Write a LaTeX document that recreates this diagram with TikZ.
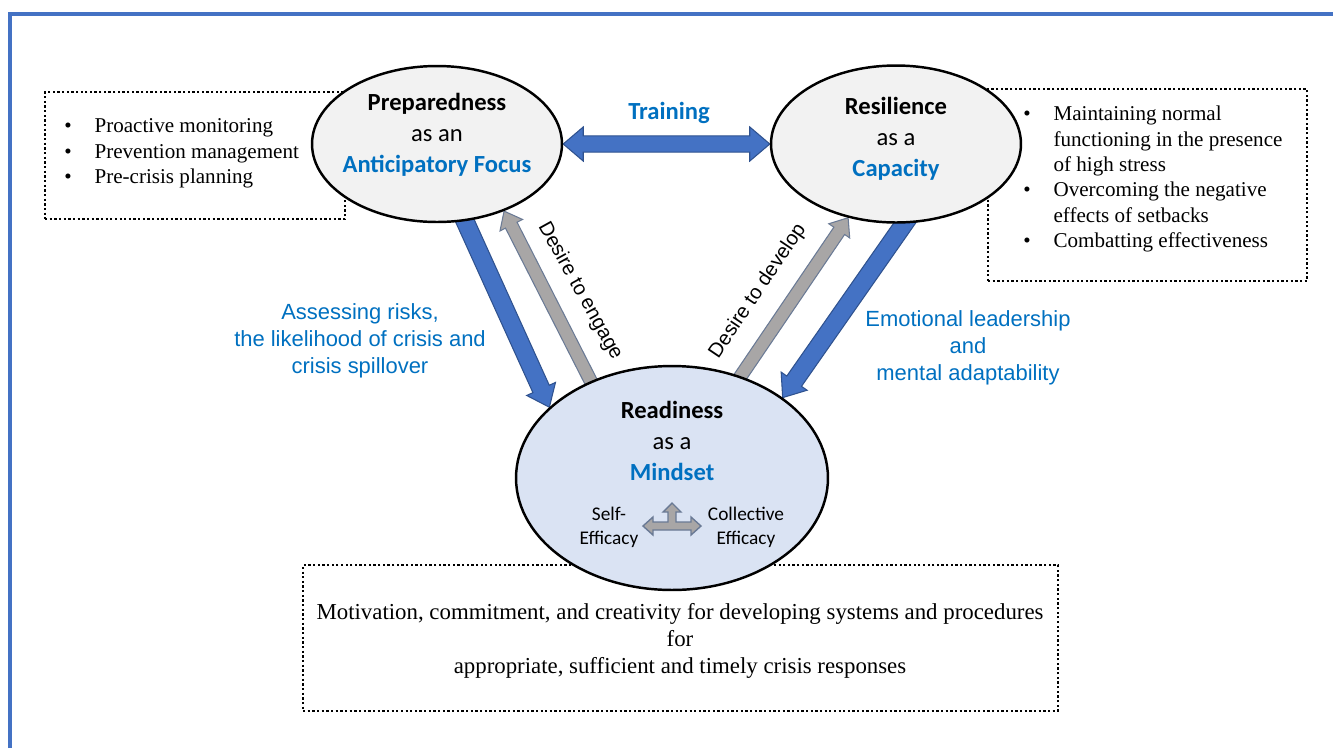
\documentclass[tikz,border=0pt]{standalone}
\usepackage{fontspec}
\setmainfont{Liberation Serif}
\setsansfont{Carlito}
\newfontfamily\arialfont{Liberation Sans}
\usetikzlibrary{shapes.geometric,positioning,backgrounds,calc}
\definecolor{frameblue}{HTML}{4472C4}
\definecolor{txtblue}{HTML}{0070C0}
\definecolor{arrblue}{HTML}{4472C4}
\definecolor{arredge}{HTML}{2F528F}
\definecolor{arrgray}{HTML}{A8A6A6}
\definecolor{grayedge}{HTML}{6A7A95}
\definecolor{ovalgray}{HTML}{F2F2F2}
\definecolor{ovalblue}{HTML}{DAE3F3}
% block arrow: style, from, to, shaft half width, head half width, head length
\newcommand{\onearrow}[6]{%
 \coordinate (hb) at ($(#3)!#6!(#2)$);
 \draw[#1] ($(#2)!#4!90:(#3)$) -- ($(hb)!#4!-90:(#2)$) -- ($(hb)!#5!-90:(#2)$) -- (#3)
 -- ($(hb)!#5!90:(#2)$) -- ($(hb)!#4!90:(#2)$) -- ($(#2)!#4!-90:(#3)$) -- cycle;}
\newcommand{\twoarrow}[6]{%
 \coordinate (hba) at ($(#2)!#6!(#3)$);
 \coordinate (hbb) at ($(#3)!#6!(#2)$);
 \draw[#1] (#2) -- ($(hba)!#5!90:(#3)$) -- ($(hba)!#4!90:(#3)$) -- ($(hbb)!#4!-90:(#2)$)
 -- ($(hbb)!#5!-90:(#2)$) -- (#3) -- ($(hbb)!#5!90:(#2)$) -- ($(hbb)!#4!90:(#2)$)
 -- ($(hba)!#4!-90:(#3)$) -- ($(hba)!#5!-90:(#3)$) -- cycle;}
\tikzset{
 oval/.style={draw, ellipse, line width=1.4pt, fill=ovalgray, inner sep=0pt},
 dotbox/.style={draw, line width=1.4pt, dash pattern=on 1.3pt off 1.35pt},
 ovaltext/.style={align=center, font=\sffamily\fontsize{14}{17.6}\selectfont},
 listtext/.style={align=left, inner sep=0pt, font=\fontsize{12}{14.4}\selectfont},
 bluelabel/.style={align=center, text=txtblue, font=\arialfont\fontsize{12.5}{15.4}\selectfont},
 slopelabel/.style={font=\arialfont\fontsize{11.5}{13}\selectfont},
 smalltext/.style={align=center, font=\sffamily\fontsize{11}{13.7}\selectfont},
 bluearrow/.style={fill=arrblue, draw=arredge, line width=0.6pt},
 grayarrow/.style={fill=arrgray, draw=grayedge, line width=0.6pt}
}
\begin{document}
\begin{tikzpicture}[x=0.02cm, y=-0.02cm]
\useasboundingbox (0,0) rectangle (1333,748);
\draw[frameblue, line width=2.3pt] (10,748) -- (10,14) -- (1333,14);

% dotted boxes
\node[dotbox, minimum width=6cm, minimum height=2.54cm] (prepbox) at (195,155.5) {};
\node[listtext, anchor=west] (preplist) at (64,153) {\begin{tabular}{@{}l@{\hspace{13pt}}l@{}}
 \textbullet & Proactive monitoring\\
 \textbullet & Prevention management\\
 \textbullet & Pre-crisis planning
 \end{tabular}};
\node[dotbox, minimum width=6.38cm, minimum height=3.84cm] (resbox) at (1147.5,185) {};
\node[listtext, anchor=west] (reslist) at (1023,179) {\begin{tabular}{@{}l@{\hspace{13pt}}l@{}}
 \textbullet & Maintaining normal\\
  & functioning in the presence\\
  & of high stress\\
 \textbullet & Overcoming the negative\\
  & effects of setbacks\\
 \textbullet & Combatting effectiveness
 \end{tabular}};
\node[dotbox, minimum width=15.1cm, minimum height=2.92cm] (readybox) at (680.5,638) {};
\node[align=center, font=\fontsize{13}{15.4}\selectfont] (readytext) at (680,641)
 {Motivation, commitment, and creativity for developing systems and procedures\\
  for\\
  appropriate, sufficient and timely crisis responses};

% ovals
\node[oval, minimum width=5cm, minimum height=3.12cm] (prep) at (437,144) {};
\node[oval, minimum width=5cm, minimum height=3.14cm] (res) at (896,144) {};
\node[oval, fill=ovalblue, minimum width=6.24cm, minimum height=4.48cm] (ready) at (672,478) {};
\node[ovaltext] (preptext) at (437,135) {\textbf{Preparedness}\\ as an\\ \textcolor{txtblue}{\textbf{Anticipatory Focus}}};
\node[ovaltext] (restext) at (896,139) {\textbf{Resilience}\\ as a\\ \textcolor{txtblue}{\textbf{Capacity}}};
\node[ovaltext] (readytitle) at (672,441) {\textbf{Readiness}\\ as a\\ \textcolor{txtblue}{\textbf{Mindset}}};
\node[smalltext] (self) at (609,527) {Self-\\Efficacy};
\node[smalltext] (coll) at (746,527) {Collective\\Efficacy};
\coordinate (hub) at (672,526);
\draw[grayarrow, line width=0.8pt, shift={(hub)}] (-29,0) -- (-19,-9) -- (-19,-4) -- (-4,-4) -- (-4,-14)
 -- (-9,-14) -- (0,-23) -- (9,-14) -- (4,-14) -- (4,-4) -- (19,-4) -- (19,-9) -- (29,0)
 -- (19,9) -- (19,4) -- (-19,4) -- (-19,9) -- cycle;

% arrows between ovals
\begin{scope}[on background layer]
\twoarrow{bluearrow}{prep.east}{res.west}{4.6pt}{9.7pt}{11.4pt}
\coordinate (asstail) at ($(prep.-70)!-14pt!(ready.150)$);
\onearrow{bluearrow}{asstail}{ready.150}{5.1pt}{9pt}{11.4pt}
\coordinate (engtail) at ($(ready.130)!-14pt!(prep.-45)$);
\onearrow{grayarrow}{engtail}{prep.-45}{3.7pt}{7.2pt}{9pt}
\coordinate (devtail) at ($(ready.56)!-14pt!(res.-123)$);
\onearrow{grayarrow}{devtail}{res.-123}{3.7pt}{7.2pt}{9pt}
\coordinate (emotail) at ($(res.-84)!-14pt!(ready.36)$);
\onearrow{bluearrow}{emotail}{ready.36}{5.1pt}{9pt}{11.4pt}
\end{scope}

% labels
\node[ovaltext, text=txtblue] (train) at (669,113) {\textbf{Training}};
\node[bluelabel] (assess) at (360,341) {Assessing risks,\\ the likelihood of crisis and\\ crisis spillover};
\node[bluelabel] (emotion) at (968,348) {Emotional leadership\\ and\\ mental adaptability};
\node[slopelabel, rotate=-61] (engage) at (580,291) {Desire to engage};
\node[slopelabel, rotate=56] (develop) at (758,291) {Desire to develop};
\end{tikzpicture}
\end{document}
